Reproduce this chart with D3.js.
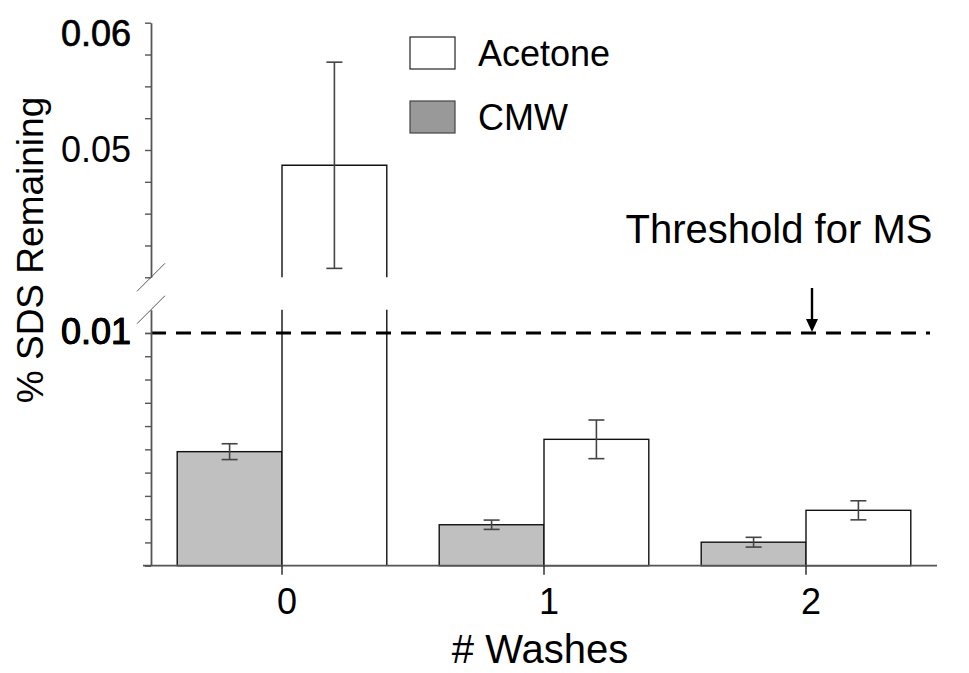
<!DOCTYPE html>
<html>
<head>
<meta charset="utf-8">
<script src="https://cdn.jsdelivr.net/npm/d3@7/dist/d3.min.js"></script>
<style>
  html, body { margin: 0; padding: 0; background: #fff; }
  svg { display: block; font-family: "Liberation Sans", Arial, sans-serif; }
</style>
</head>
<body>
<svg id="chart" width="969" height="673"></svg>
<script>
// Residual SDS after washing, by wash count and solvent
const washes = ["0", "1", "2"];
const seriesNames = ["CMW", "Acetone"];
const cmwValues = [0.0049, 0.00176, 0.00101];
const cmwErrors = [0.00034, 0.0002, 0.00021];
const acetoneValues = [0.0488, 0.00543, 0.00238];
const acetoneErrors = [0.0081, 0.00083, 0.00041];
const threshold = 0.01;

// broken y axis: lower and upper segments
const lowerDomain = [0, 0.011];
const upperDomain = [0.04, 0.06];
const lowerTicks = d3.range(0, 11).map(i => i * 0.001).concat([0.01]);
const upperTicks = [0.04, 0.0425, 0.045, 0.0475, 0.05, 0.0525, 0.055, 0.0575, 0.06];
const labeledTicks = ["0.01", "0.05", "0.06"];

const svg = d3.select("#chart");
const axisX = 151;
const axisColor = "#555";

const yLow = d3.scaleLinear().domain(lowerDomain).range([565.7, 309.7]);
const yHigh = d3.scaleLinear().domain(upperDomain).range([277.3, 22.7]);

const x = d3.scaleBand().domain(washes).range([axisX, 937]).paddingInner(0.2).paddingOuter(0.1);
const xs = d3.scaleBand().domain(seriesNames).range([0, x.bandwidth()]);

const fills = { CMW: "#c0c0c0", Acetone: "#ffffff" };

const rows = [];
washes.forEach((w, i) => {
  rows.push({ wash: w, series: "CMW", value: cmwValues[i], err: cmwErrors[i] });
  rows.push({ wash: w, series: "Acetone", value: acetoneValues[i], err: acetoneErrors[i] });
});

function yOf(v) {
  return v > lowerDomain[1] ? yHigh(v) : yLow(v);
}

const bars = svg.append("g");
rows.forEach(d => {
  const x0 = x(d.wash) + xs(d.series);
  const x1 = x0 + xs.bandwidth();
  const g = bars.append("g");
  if (d.value <= lowerDomain[1]) {
    g.append("rect")
      .attr("x", x0).attr("y", yLow(d.value))
      .attr("width", x1 - x0).attr("height", yLow(0) - yLow(d.value))
      .attr("fill", fills[d.series]).attr("stroke", "#111").attr("stroke-width", 1.4);
  } else {
    // lower piece, open at the break
    g.append("rect")
      .attr("x", x0).attr("y", yLow(lowerDomain[1]))
      .attr("width", x1 - x0).attr("height", yLow(0) - yLow(lowerDomain[1]))
      .attr("fill", fills[d.series]);
    g.append("path")
      .attr("d", `M${x0},${yLow(lowerDomain[1])}V${yLow(0)}M${x1},${yLow(lowerDomain[1])}V${yLow(0)}`)
      .attr("fill", "none").attr("stroke", "#111").attr("stroke-width", 1.4);
    // upper piece, open at the break
    g.append("rect")
      .attr("x", x0).attr("y", yHigh(d.value))
      .attr("width", x1 - x0).attr("height", yHigh(upperDomain[0]) - yHigh(d.value))
      .attr("fill", fills[d.series]);
    g.append("path")
      .attr("d", `M${x0},${yHigh(upperDomain[0])}V${yHigh(d.value)}H${x1}V${yHigh(upperDomain[0])}`)
      .attr("fill", "none").attr("stroke", "#111").attr("stroke-width", 1.4);
  }
});

// threshold line
svg.append("line")
  .attr("x1", axisX).attr("x2", 930)
  .attr("y1", yLow(threshold)).attr("y2", yLow(threshold))
  .attr("stroke", "#000").attr("stroke-width", 3)
  .attr("stroke-dasharray", "15,10");

// error bars
const errG = svg.append("g").attr("stroke", "#444").attr("stroke-width", 1.6);
rows.forEach(d => {
  const cx = x(d.wash) + xs(d.series) + xs.bandwidth() / 2;
  const top = yOf(d.value + d.err);
  const bot = yOf(d.value - d.err);
  errG.append("line").attr("x1", cx).attr("x2", cx).attr("y1", top).attr("y2", bot);
  errG.append("line").attr("x1", cx - 8).attr("x2", cx + 8).attr("y1", top).attr("y2", top);
  errG.append("line").attr("x1", cx - 8).attr("x2", cx + 8).attr("y1", bot).attr("y2", bot);
});

// x axis
svg.append("line")
  .attr("x1", 143).attr("x2", 937)
  .attr("y1", yLow(0)).attr("y2", yLow(0))
  .attr("stroke", axisColor).attr("stroke-width", 1.8);
const xAxis = d3.axisBottom(x).tickSize(9).tickSizeOuter(0).tickPadding(14);
const xg = svg.append("g").attr("transform", `translate(0,${yLow(0)})`).call(xAxis);
xg.select(".domain").remove();
xg.selectAll(".tick line").attr("stroke", "#222").attr("stroke-width", 1.4);
xg.selectAll(".tick text")
  .attr("font-size", 36).attr("fill", "#000").attr("dx", 5)
  .attr("font-family", "Liberation Sans, Arial, sans-serif");

// y axis segments
function styleYAxis(g) {
  g.select(".domain").attr("stroke", axisColor).attr("stroke-width", 1.8);
  g.selectAll(".tick line").attr("stroke", axisColor).attr("stroke-width", 1.4);
  g.selectAll(".tick text")
    .attr("font-size", 36).attr("fill", "#000")
    .attr("font-family", "Liberation Sans, Arial, sans-serif");
}
const fmt = v => {
  const s = d3.format(".2f")(v);
  return labeledTicks.includes(s) && Math.abs(+s - v) < 1e-9 ? s : "";
};
const yLowAxis = d3.axisLeft(yLow).tickValues(lowerTicks).tickSize(6).tickSizeOuter(0).tickPadding(14).tickFormat(fmt);
const yHighAxis = d3.axisLeft(yHigh).tickValues(upperTicks).tickSize(6).tickSizeOuter(0).tickPadding(14).tickFormat(fmt);
const gl = svg.append("g").attr("transform", `translate(${axisX},0)`).call(yLowAxis);
const gh = svg.append("g").attr("transform", `translate(${axisX},0)`).call(yHighAxis);
styleYAxis(gl);
styleYAxis(gh);
// end labels of each segment are set a little heavier
gh.selectAll(".tick text").filter(d => Math.abs(d - 0.06) < 1e-9)
  .attr("dy", "0.62em").attr("stroke", "#000").attr("stroke-width", 0.7);
gl.selectAll(".tick text").filter(d => Math.abs(d - 0.01) < 1e-9)
  .attr("dy", "0.28em").attr("stroke", "#000").attr("stroke-width", 0.7);

// break marks on the y axis
[yHigh(upperDomain[0]), yLow(lowerDomain[1])].forEach(yy => {
  svg.append("line")
    .attr("x1", axisX - 14).attr("y1", yy + 14)
    .attr("x2", axisX + 14).attr("y2", yy - 14)
    .attr("stroke", "#555").attr("stroke-width", 1);
});

// axis titles
svg.append("text")
  .attr("transform", `translate(43,250) rotate(-90)`)
  .attr("text-anchor", "middle")
  .attr("font-size", 37).attr("fill", "#000")
  .text("% SDS Remaining");
svg.append("text")
  .attr("x", 540).attr("y", 663)
  .attr("text-anchor", "middle")
  .attr("font-size", 40).attr("fill", "#000")
  .text("# Washes");

// threshold annotation
svg.append("text")
  .attr("x", 779).attr("y", 243)
  .attr("text-anchor", "middle")
  .attr("font-size", 40).attr("fill", "#000")
  .text("Threshold for MS");
const arrowX = 812;
svg.append("line")
  .attr("x1", arrowX).attr("x2", arrowX)
  .attr("y1", 288).attr("y2", yLow(threshold) - 10)
  .attr("stroke", "#000").attr("stroke-width", 2.4);
svg.append("path")
  .attr("d", `M${arrowX - 6},${yLow(threshold) - 14}L${arrowX + 6},${yLow(threshold) - 14}L${arrowX},${yLow(threshold) - 1}Z`)
  .attr("fill", "#000");

// legend
const legend = svg.append("g");
const legendItems = [
  { name: "Acetone", fill: "#ffffff", stroke: "#222", y: 37 },
  { name: "CMW", fill: "#999999", stroke: "#444", y: 101 }
];
legendItems.forEach(it => {
  legend.append("rect")
    .attr("x", 410).attr("y", it.y).attr("width", 45).attr("height", 32)
    .attr("fill", it.fill).attr("stroke", it.stroke).attr("stroke-width", 1.2);
  legend.append("text")
    .attr("x", 478).attr("y", it.y + 29)
    .attr("font-size", 36).attr("fill", "#000")
    .text(it.name);
});
</script>
</body>
</html>
